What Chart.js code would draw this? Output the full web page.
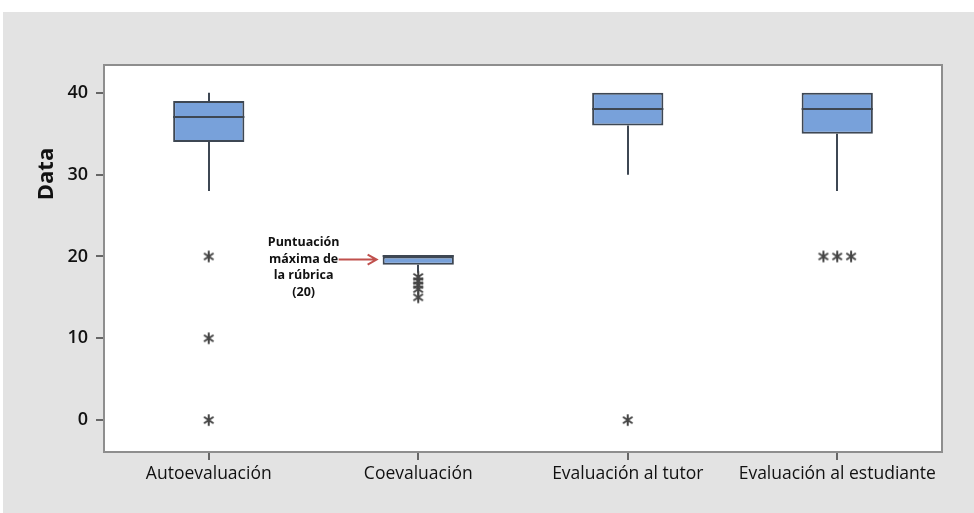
<!DOCTYPE html>
<html><head><meta charset="utf-8">
<script src="https://cdn.jsdelivr.net/npm/chart.js@4.4.1/dist/chart.umd.min.js"></script>
<style>html,body{margin:0;padding:0;background:#fff;overflow:hidden}</style>
</head><body>
<canvas id="c" width="974" height="513"></canvas>
<script>
// ---- data ----
const categories = ["Autoevaluación", "Coevaluación", "Evaluación al tutor", "Evaluación al estudiante"];
const whiskerLow  = [28, 18, 30, 28];
const q1          = [34, 19, 36, 35];
const median      = [37, 20, 38, 38];
const q3          = [39, 20, 40, 40];
const whiskerHigh = [40, 20, 40, 40];
const outliersAuto = [20, 10, 0];
const outliersCo = [17.5, 17, 16.5, 16, 15];
const outliersTutor = [0];
const outliersEst = [20, 20, 20];
const yTicks = [0, 10, 20, 30, 40];
const yTitle = "Data";
const annotLines = ["Puntuación", "máxima de", "la rúbrica", "(20)"];
const annotCategory = 1;

// ---- styles ----
const FONT = "'Open Sans', 'DejaVu Sans', sans-serif";
const BOX_FILL = '#78a1da';
const BOX_EDGE = '#3e4753';
const FRAME = '#8e8e8e';
const TICK = '#666666';
const BG = '#e3e3e3';

// asterisk marker
function makeStar() {
  const s = 14, c = document.createElement('canvas');
  c.width = s; c.height = s;
  const g = c.getContext('2d');
  g.strokeStyle = '#454545'; g.lineWidth = 2; g.lineCap = 'butt';
  const m = s / 2, r = 5.8;
  g.beginPath();
  g.moveTo(m, m - r); g.lineTo(m, m + r);
  const a = Math.PI / 5.2;
  g.moveTo(m - r * Math.cos(a), m - r * Math.sin(a)); g.lineTo(m + r * Math.cos(a), m + r * Math.sin(a));
  g.moveTo(m - r * Math.cos(a), m + r * Math.sin(a)); g.lineTo(m + r * Math.cos(a), m - r * Math.sin(a));
  g.stroke();
  return c;
}
const star = makeStar();

// outlier points: equal values placed side by side (as Minitab does)
const allOutliers = [outliersAuto, outliersCo, outliersTutor, outliersEst];
const outlierPoints = [];
allOutliers.forEach((arr, i) => {
  const counts = {};
  arr.forEach(v => counts[v] = (counts[v] || 0) + 1);
  const seen = {};
  arr.forEach(v => {
    const n = counts[v];
    const k = seen[v] = (seen[v] === undefined ? 0 : seen[v] + 1);
    outlierPoints.push({ x: i + (k - (n - 1) / 2) * 0.066, y: v });
  });
});

const bgPlugin = {
  id: 'bg',
  beforeDraw(chart) {
    const { ctx, chartArea: a } = chart;
    ctx.save();
    ctx.fillStyle = '#ffffff';
    ctx.fillRect(0, 0, chart.width, chart.height);
    ctx.fillStyle = BG;
    ctx.fillRect(3, 12, chart.width - 3, chart.height - 12);
    ctx.fillStyle = '#ffffff';
    ctx.fillRect(a.left, a.top, a.right - a.left, a.bottom - a.top);
    ctx.restore();
  },
  beforeDatasetsDraw(chart) {
    const { ctx } = chart;
    const y = chart.scales.y;
    const meta = chart.getDatasetMeta(0);
    ctx.save();
    ctx.strokeStyle = BOX_EDGE; ctx.lineWidth = 2;
    meta.data.forEach((bar, i) => {
      const x = Math.round(bar.x);
      ctx.beginPath();
      ctx.moveTo(x, y.getPixelForValue(whiskerLow[i]));
      ctx.lineTo(x, y.getPixelForValue(q1[i]));
      ctx.moveTo(x, y.getPixelForValue(q3[i]));
      ctx.lineTo(x, y.getPixelForValue(whiskerHigh[i]));
      ctx.stroke();
    });
    ctx.restore();
  },
  afterDatasetsDraw(chart) {
    const { ctx } = chart;
    const y = chart.scales.y;
    const meta = chart.getDatasetMeta(0);
    ctx.save();
    ctx.strokeStyle = BOX_EDGE; ctx.lineWidth = 2;
    meta.data.forEach((bar, i) => {
      const py = Math.round(y.getPixelForValue(median[i]));
      ctx.beginPath();
      ctx.moveTo(bar.x - bar.width / 2, py);
      ctx.lineTo(bar.x + bar.width / 2, py);
      ctx.stroke();
    });
    ctx.restore();
  },
  afterDraw(chart) {
    const { ctx, chartArea: a } = chart;
    const y = chart.scales.y, x = chart.scales.x;
    ctx.save();
    // frame
    ctx.strokeStyle = FRAME; ctx.lineWidth = 2;
    ctx.strokeRect(a.left, a.top, a.right - a.left, a.bottom - a.top);
    // tick marks
    ctx.fillStyle = TICK;
    yTicks.forEach(v => {
      const py = Math.round(y.getPixelForValue(v));
      ctx.fillRect(a.left - 8, py - 1, 7, 2);
    });
    categories.forEach((_, i) => {
      const px = Math.round(x.getPixelForValue(i));
      ctx.fillRect(px - 1, a.bottom + 1, 2, 7);
    });
    // y title
    ctx.translate(47, a.top + 109);
    ctx.rotate(-Math.PI / 2);
    ctx.fillStyle = '#111';
    ctx.font = "bold 22px " + FONT;
    ctx.textAlign = 'center'; ctx.textBaseline = 'middle';
    ctx.fillText(yTitle, 0, 0);
    ctx.restore();
    // annotation
    const bar = chart.getDatasetMeta(0).data[annotCategory];
    const boxLeft = bar.x - bar.width / 2;
    const ay = y.getPixelForValue((q1[annotCategory] + q3[annotCategory]) / 2) - 1;
    ctx.save();
    ctx.fillStyle = '#111';
    ctx.font = "bold 12.5px " + FONT;
    ctx.textAlign = 'center'; ctx.textBaseline = 'middle';
    annotLines.forEach((t, k) => ctx.fillText(t, boxLeft - 79, ay - 17 + k * 16.5));
    ctx.strokeStyle = '#c0504d'; ctx.lineWidth = 2;
    const x0 = boxLeft - 44, x1 = boxLeft - 6;
    ctx.beginPath();
    ctx.moveTo(x0, ay); ctx.lineTo(x1, ay);
    ctx.moveTo(x1 - 9, ay - 5); ctx.lineTo(x1, ay); ctx.lineTo(x1 - 9, ay + 5);
    ctx.stroke();
    ctx.restore();
  }
};

new Chart(document.getElementById('c'), {
  type: 'bar',
  data: {
    datasets: [{
      type: 'bar',
      data: categories.map((_, i) => ({ x: i, y: [q1[i], q3[i]] })),
      backgroundColor: BOX_FILL,
      borderColor: BOX_EDGE,
      borderWidth: 2,
      borderSkipped: false,
      barPercentage: 0.34,
      categoryPercentage: 1
    }, {
      type: 'scatter',
      data: outlierPoints,
      pointStyle: star,
      pointRadius: 7
    }]
  },
  options: {
    responsive: false,
    animation: false,
    devicePixelRatio: 1,
    layout: { padding: { top: 65, right: 32, left: 0, bottom: 0 } },
    plugins: { legend: { display: false }, tooltip: { enabled: false } },
    scales: {
      x: {
        type: 'linear',
        min: -0.5, max: 3.5,
        offset: false,
        grid: { display: false, drawOnChartArea: false, offset: false, tickLength: 6 },
        border: { display: false },
        ticks: {
          font: { family: FONT, size: 17.5 }, color: '#111', padding: 6, maxRotation: 0, autoSkip: false,
          callback: v => categories[v]
        },
        afterBuildTicks(s) { s.ticks = categories.map((_, i) => ({ value: i })); },
        afterFit(s) { s.height = 61; }
      },
      y: {
        min: -3.9, max: 43.4,
        grid: { display: false, drawOnChartArea: false, tickLength: 6 },
        border: { display: false },
        ticks: { font: { family: FONT, size: 18, weight: '600' }, color: '#111', padding: 10 },
        afterBuildTicks(s) { s.ticks = yTicks.map(v => ({ value: v })); },
        afterFit(s) { s.width = 104; }
      }
    }
  },
  plugins: [bgPlugin]
});
</script>
</body></html>
